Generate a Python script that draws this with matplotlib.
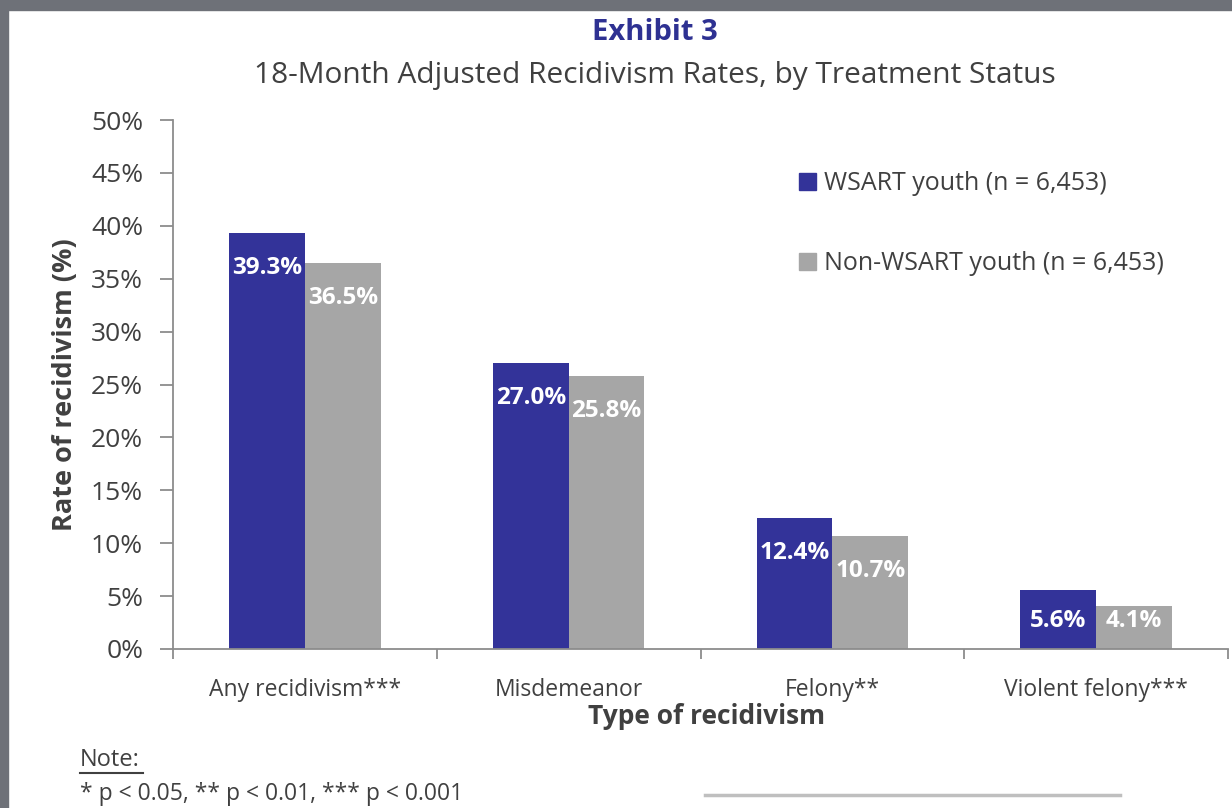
import matplotlib.pyplot as plt
from matplotlib.patches import Rectangle, Patch
from matplotlib.lines import Line2D
import numpy as np

plt.rcParams['font.family'] = ['Open Sans', 'DejaVu Sans']

# data
categories = ['Any recidivism***', 'Misdemeanor', 'Felony**', 'Violent felony***']
wsart = [39.3, 27.0, 12.4, 5.6]
non_wsart = [36.5, 25.8, 10.7, 4.1]
series_names = ['WSART youth (n = 6,453)', 'Non-WSART youth (n = 6,453)']

blue = '#333399'
grey = '#a6a6a6'
axis_col = '#8c8c8c'
text_col = '#404040'

W, H = 1232, 808
fig = plt.figure(figsize=(W / 100, H / 100), dpi=100)
fig.patch.set_facecolor('white')

# gray frame of the screenshot
fig.patches.append(Rectangle((0, 1 - 10 / H), 1, 10 / H, transform=fig.transFigure,
                             color='#6e7178', zorder=0))
fig.patches.append(Rectangle((0, 0), 8 / W, 1, transform=fig.transFigure,
                             color='#6e7178', zorder=0))

ax = fig.add_axes([173 / W, 1 - 649 / H, 1055 / W, 529 / H])

x = np.arange(len(categories)) + 0.5
bw = 0.287
b1 = ax.bar(x - bw / 2, wsart, bw, color=blue, zorder=2)
b2 = ax.bar(x + bw / 2, non_wsart, bw, color=grey, zorder=2)

# labels sit inside the bar end, kept above the axis for short bars
for bars, vals in ((b1, wsart), (b2, non_wsart)):
    for rect, v in zip(bars, vals):
        ax.text(rect.get_x() + rect.get_width() / 2, max(v - 3.3, 2.6), f'{v:.1f}%',
                ha='center', va='center', color='white', fontsize=17.5,
                fontweight='bold', zorder=3)

ax.set_xlim(0, 4)
ax.set_ylim(0, 50)
ax.set_yticks(np.arange(0, 51, 5))
ax.set_yticklabels([f'{t}%' for t in range(0, 51, 5)], fontsize=19, color=text_col)
ax.set_xticks(x)
ax.set_xticklabels(categories, fontsize=16.5, color=text_col)
ax.set_xticks(np.arange(0, 5), minor=True)
ax.tick_params(axis='x', which='major', length=0, pad=21)
ax.tick_params(axis='x', which='minor', length=7.5, width=1.3, color=axis_col)
ax.tick_params(axis='y', length=9.5, width=1.3, color=axis_col, pad=12)

for s in ('top', 'right'):
    ax.spines[s].set_visible(False)
for s in ('left', 'bottom'):
    ax.spines[s].set_color(axis_col)
    ax.spines[s].set_linewidth(1.3)

ax.set_ylabel('Rate of recidivism (%)', fontsize=19.5, fontweight='bold',
              color=text_col, va='center')
ax.yaxis.set_label_coords(-0.102, 0.5)
ax.set_xlabel('Type of recidivism', fontsize=19, fontweight='bold',
              color=text_col, va='center')
ax.xaxis.set_label_coords(0.506, -0.1285)

handles = [Patch(color=blue), Patch(color=grey)]
fig.legend(handles, series_names, loc='upper left',
           bbox_to_anchor=(799 / W, 1 - 171 / H), bbox_transform=fig.transFigure,
           frameon=False, fontsize=18, labelspacing=2.2,
           handlelength=0.68, handleheight=0.68, handletextpad=0.32,
           borderpad=0, borderaxespad=0, labelcolor=text_col)

fig.text(655 / W, 1 - 32 / H, 'Exhibit 3', ha='center', va='center',
         fontsize=21, fontweight='bold', color='#2e3192')
fig.text(655 / W, 1 - 75 / H, '18-Month Adjusted Recidivism Rates, by Treatment Status',
         ha='center', va='center', fontsize=21.5, color=text_col)

fig.text(80 / W, 1 - 760 / H, 'Note:', ha='left', va='center', fontsize=17,
         color=text_col)
fig.add_artist(Line2D([80 / W, 143 / W], [1 - 773 / H, 1 - 773 / H],
                      transform=fig.transFigure, color=text_col, lw=1.5))
fig.text(80 / W, 1 - 794 / H, '* p < 0.05, ** p < 0.01, *** p < 0.001',
         ha='left', va='center', fontsize=16.5, color=text_col)
fig.add_artist(Line2D([705 / W, 1120 / W], [1 - 795 / H, 1 - 795 / H],
                      transform=fig.transFigure, color='#bfbfbf', lw=2.5))

fig.savefig('out.png', dpi=100)
